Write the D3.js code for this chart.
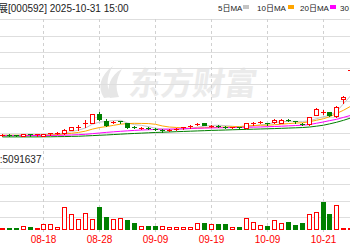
<!DOCTYPE html>
<html><head><meta charset="utf-8">
<script src="https://cdn.jsdelivr.net/npm/d3@7/dist/d3.min.js"></script>
<style>html,body{margin:0;padding:0;background:#fff;overflow:hidden}</style>
</head><body>
<svg id="c" width="350" height="250"></svg>
<script>
// ---------- data ----------
const stockName = "平潭发展";
const stockInfo = "[000592] 2025-10-31 15:00";
const maNames = ["5日MA", "10日MA", "20日MA", "30日MA"];
const volumeLabel = "成交量:5091637";
const tickLabels = ["08-18", "08-28", "09-09", "09-19", "10-09", "10-21"];
const dates = ["08-08","08-11","08-12","08-13","08-14","08-15","08-18","08-19","08-20","08-21",
  "08-22","08-25","08-26","08-27","08-28","08-29","09-01","09-02","09-03","09-04",
  "09-05","09-08","09-09","09-10","09-11","09-12","09-15","09-16","09-17","09-18",
  "09-19","09-22","09-23","09-24","09-25","09-26","09-29","09-30","10-09","10-10",
  "10-13","10-14","10-15","10-16","10-17","10-20","10-21","10-22","10-23","10-24","10-27"];
const open  = [2.21,2.22,2.22,2.21,2.23,2.22,2.21,2.23,2.24,2.25, 2.30,2.335,2.39,2.41,2.55,2.44,2.41,2.43,2.40,2.34,
  2.32,2.33,2.305,2.30,2.29,2.30,2.32,2.34,2.385,2.40, 2.36,2.36,2.35,2.33,2.335,2.33,2.395,2.405,2.40,2.42,
  2.41,2.45,2.43,2.39,2.39,2.53,2.57,2.57,2.51,2.77,3.20];
const high  = [2.23,2.23,2.22,2.24,2.23,2.24,2.24,2.25,2.26,2.31, 2.35,2.37,2.45,2.55,2.58,2.465,2.43,2.44,2.41,2.36,
  2.34,2.34,2.32,2.31,2.31,2.32,2.35,2.37,2.41,2.41, 2.38,2.37,2.36,2.35,2.34,2.41,2.42,2.43,2.41,2.47,
  2.46,2.46,2.44,2.40,2.50,2.63,2.60,2.58,2.66,2.82,3.23];
const low   = [2.20,2.20,2.20,2.20,2.21,2.21,2.20,2.22,2.23,2.24, 2.29,2.30,2.34,2.40,2.45,2.36,2.40,2.41,2.33,2.32,
  2.31,2.31,2.29,2.27,2.28,2.29,2.31,2.33,2.37,2.37, 2.35,2.34,2.33,2.32,2.31,2.32,2.38,2.40,2.38,2.41,
  2.40,2.43,2.41,2.37,2.38,2.52,2.55,2.51,2.50,2.71,3.18];
const close = [2.22,2.21,2.21,2.23,2.22,2.23,2.23,2.245,2.245,2.30, 2.34,2.34,2.41,2.54,2.46,2.38,2.42,2.42,2.34,2.335,
  2.325,2.32,2.30,2.28,2.30,2.31,2.34,2.36,2.39,2.38, 2.365,2.35,2.335,2.34,2.32,2.40,2.40,2.42,2.39,2.45,
  2.45,2.44,2.42,2.38,2.49,2.62,2.575,2.52,2.65,2.81,3.22];
const volume = [345000,255000,345000,600000,450000,345000,855000,855000,495000,3500000,
  2355000,1650000,2500000,1650000,3500000,2000000,1650000,1755000,1500000,1000000,
  645000,555000,555000,645000,495000,495000,495000,495000,1000000,1100000,
  855000,855000,855000,495000,405000,1845000,1155000,750000,645000,1500000,
  1100000,1245000,750000,1000000,2400000,2745000,4245000,2400000,3750000,300000,300000];
const volUp = [1,0,0,1,0,1,1,1,1,1, 1,1,1,1,0,0,1,1,0,0, 1,0,0,1,1,1,1,1,1,0,
  1,0,0,1,0,1,1,1,0,1, 1,0,0,0,1,1,0,0,1,1,1];
const ma5  = [2.215,2.215,2.215,2.218,2.218,2.22,2.224,2.231,2.234,2.25, 2.272,2.294,2.327,2.386,2.418,2.426,2.442,2.444,2.404,2.379,
  2.368,2.348,2.324,2.312,2.305,2.302,2.306,2.318,2.34,2.356, 2.367,2.369,2.364,2.354,2.342,2.349,2.359,2.376,2.386,2.412,
  2.422,2.43,2.43,2.428,2.436,2.47,2.50,2.52,2.58,2.70,2.82];
const ma10 = [2.215,2.215,2.215,2.216,2.216,2.217,2.218,2.22,2.226,2.234, 2.246,2.259,2.279,2.31,2.334,2.349,2.368,2.386,2.395,2.399,
  2.397,2.395,2.384,2.358,2.342,2.335,2.327,2.321,2.326,2.331, 2.335,2.338,2.341,2.347,2.349,2.358,2.364,2.37,2.37,2.377,
  2.386,2.395,2.403,2.407,2.424,2.446,2.47,2.50,2.55,2.60,2.66];
const ma20 = [2.21,2.21,2.21,2.21,2.21,2.212,2.212,2.213,2.214,2.216, 2.22,2.225,2.23,2.24,2.25,2.26,2.268,2.276,2.283,2.29,
  2.296,2.30,2.305,2.308,2.31,2.313,2.316,2.32,2.323,2.326, 2.328,2.33,2.332,2.334,2.336,2.338,2.34,2.343,2.347,2.35,
  2.355,2.36,2.365,2.37,2.38,2.40,2.42,2.44,2.46,2.49,2.52];
const ma30 = [2.19,2.19,2.19,2.19,2.19,2.19,2.192,2.192,2.194,2.195, 2.198,2.20,2.205,2.21,2.215,2.22,2.226,2.232,2.238,2.243,
  2.248,2.253,2.258,2.262,2.266,2.27,2.274,2.278,2.282,2.286, 2.29,2.293,2.296,2.30,2.303,2.306,2.309,2.312,2.315,2.318,
  2.322,2.326,2.33,2.334,2.342,2.355,2.37,2.39,2.415,2.445,2.48];
const priceDomain = [2.0, 4.0];
const volDomain = [0, 6000000];

// ---------- layout / style ----------
const RED = "#ff0000", GREEN = "#008000";
const maColors = ["#c4c4c4", "#ffa500", "#ff00ff", "#008000"];
const GRID = "#dedede";
const font = "'Liberation Sans', Arial, 'Noto Sans CJK SC', sans-serif";

const svg = d3.select("#c");
const step = 6.975;
const x = d3.scaleBand().domain(dates).range([44 - 6.5 * step, 44 - 6.5 * step + dates.length * step]);
const cx = d => Math.floor(x(d) + x.bandwidth() / 2);
const y = d3.scaleLinear().domain(priceDomain).range([149.25, 19.25]);
const vy = d3.scaleLinear().domain(volDomain).range([230, 190]);

// watermark
const wm = svg.append("g").attr("fill", "#ebebeb");
wm.append("path")
  .attr("d", "M104,98 C97,88 100,75 113,66 C106,77 106,88 112,97 Z M110,98 C106,88 110,75 122,69 C116,79 115,88 119,97 Z")
  .attr("fill", "#e6e6e6");
wm.append("text").attr("x", 128).attr("y", 95)
  .attr("font-family", "'Noto Sans CJK SC', sans-serif").attr("font-weight", "bold")
  .attr("font-size", 32).attr("transform", "skewX(-8) translate(13,0)")
  .text("东方财富");

// horizontal grid lines
const hLines = d3.range(9).map(i => y(priceDomain[0] + i * 0.25));
const volGrid = [168, 184.3, 200.6, 217];
svg.append("g").selectAll("line").data(hLines.concat(volGrid)).join("line")
  .attr("x1", 0).attr("x2", 350)
  .attr("y1", d => Math.round(d) + 0.5).attr("y2", d => Math.round(d) + 0.5)
  .attr("stroke", GRID).attr("stroke-width", 1);

// vertical dashed grid lines
const tickIdx = tickLabels.map(t => dates.indexOf(t));
svg.append("g").selectAll("line").data(tickIdx).join("line")
  .attr("x1", i => cx(dates[i]) + 0.5).attr("x2", i => cx(dates[i]) + 0.5)
  .attr("y1", 19).attr("y2", 233)
  .attr("stroke", "#d0d0d0").attr("stroke-dasharray", "3,3");

// date labels
svg.append("g").selectAll("text").data(tickIdx).join("text")
  .attr("x", i => cx(dates[i]) + 0.5).attr("y", 243)
  .attr("text-anchor", "middle").attr("font-family", font).attr("font-size", 10)
  .attr("fill", RED).text(i => dates[i]);

// MA lines
[ma5, ma10, ma20, ma30].forEach((arr, j) => {
  const line = d3.line().x((v, i) => cx(dates[i]) + 0.5).y(v => y(v));
  svg.append("path").attr("d", line(arr)).attr("fill", "none")
    .attr("stroke", maColors[j]).attr("stroke-width", 1);
});

// candles
const cg = svg.append("g");
dates.forEach((d, i) => {
  const c = cx(d);
  const up = close[i] >= open[i];
  const col = up ? RED : GREEN;
  const yo = y(open[i]), yc = y(close[i]);
  const top = Math.round(Math.min(yo, yc)), bot = Math.round(Math.max(yo, yc));
  cg.append("line").attr("x1", c + 0.5).attr("x2", c + 0.5)
    .attr("y1", Math.round(y(high[i]))).attr("y2", Math.round(y(low[i])) + 1)
    .attr("stroke", col);
  if (bot - top < 2) {
    cg.append("rect").attr("x", c - 2).attr("y", top).attr("width", 5).attr("height", 1).attr("fill", col);
  } else if (up) {
    cg.append("rect").attr("x", c - 1.5).attr("y", top + 0.5).attr("width", 4).attr("height", bot - top)
      .attr("fill", "#fff").attr("stroke", col);
  } else {
    cg.append("rect").attr("x", c - 2).attr("y", top).attr("width", 5).attr("height", bot - top + 1)
      .attr("fill", col);
  }
});

// volume bars
const vg = svg.append("g");
dates.forEach((d, i) => {
  const c = cx(d);
  const t = Math.round(vy(volume[i]));
  if (volUp[i]) {
    vg.append("rect").attr("x", c - 1.5).attr("y", t + 0.5).attr("width", 4).attr("height", Math.max(0, 229 - t))
      .attr("fill", "#fff").attr("stroke", RED);
  } else {
    vg.append("rect").attr("x", c - 2).attr("y", t).attr("width", 5).attr("height", 230 - t).attr("fill", GREEN);
  }
});

// title
svg.append("text").attr("x", 8).attr("y", 12).attr("text-anchor", "end")
  .attr("font-family", "'Noto Sans CJK SC', sans-serif").attr("font-size", 10).attr("fill", "#222").text(stockName);
svg.append("text").attr("x", 8).attr("y", 12)
  .attr("font-family", font).attr("font-size", 10).attr("fill", "#222").text(stockInfo);

// legend
const legX = [218, 257, 300, 340];
const lg = svg.append("g");
maNames.forEach((n, j) => {
  lg.append("text").attr("x", legX[j]).attr("y", 11).attr("font-family", font)
    .attr("font-size", 8).attr("fill", "#222").text(n);
});
[243, 288, 330].forEach((mx, j) => {
  lg.append("rect").attr("x", mx).attr("y", 5).attr("width", 6).attr("height", 4).attr("fill", maColors[j]);
});

// volume label
svg.append("text").attr("x", 41.5).attr("y", 163).attr("text-anchor", "end")
  .attr("font-family", font).attr("font-size", 10).attr("fill", "#222").text(volumeLabel);
</script>
</body></html>
